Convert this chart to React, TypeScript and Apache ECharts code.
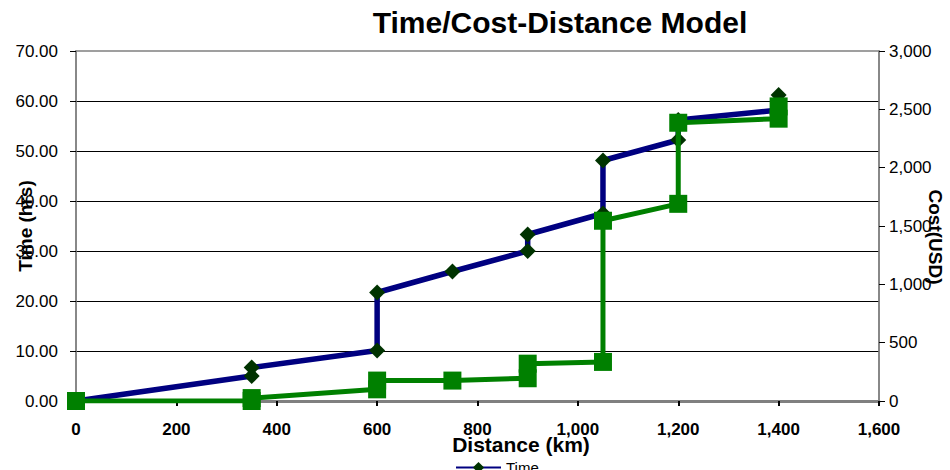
import React, { useEffect, useRef } from 'react';
import * as echarts from 'echarts';

const distances = [0, 350, 350, 600, 600, 750, 900, 900, 1050, 1050, 1200, 1200, 1400, 1400];
const timeHrs = [0, 5.0, 6.7, 10.1, 21.7, 25.9, 30.0, 33.3, 37.5, 48.1, 52.2, 56.2, 58.2, 61.2];
const costUsd = [0, 0, 25, 100, 175, 175, 195, 320, 335, 1545, 1690, 2385, 2420, 2525];

const titleText = 'Time/Cost-Distance Model';
const xName = 'Distance (km)';
const yLeftName = 'Time (hrs)';
const yRightName = 'Cost(USD)';
const seriesNames = ['Time', 'Cost'];

const FONT = '"Liberation Sans", Arial, sans-serif';

const fmtThousands = (v: number) => v.toLocaleString('en-US');

export default function App() {
  const ref = useRef<HTMLDivElement>(null);
  useEffect(() => {
    document.body.style.margin = '0';
    if (!ref.current) return;
    const chart = echarts.init(ref.current, null, { renderer: 'svg' });
    const timeData = distances.map((d, i) => [d, timeHrs[i]]);
    const costData = distances.map((d, i) => [d, costUsd[i]]);
    chart.setOption({
      animation: false,
      backgroundColor: '#ffffff',
      textStyle: { fontFamily: FONT },
      title: {
        text: titleText,
        left: 555,
        textAlign: 'center',
        top: 2,
        textStyle: { fontFamily: FONT, fontWeight: 'bold', fontSize: 30, color: '#000' },
      },
      grid: {
        left: 76,
        right: 71,
        top: 51,
        bottom: 69,
        containLabel: false,
        outerBoundsMode: 'none',
        show: true,
        borderColor: '#808080',
        borderWidth: 1.5,
        backgroundColor: 'transparent',
      },
      legend: {
        data: [seriesNames[0]],
        left: 450,
        top: 455,
        itemWidth: 45,
        itemHeight: 14,
        textStyle: { fontFamily: FONT, fontSize: 15, color: '#000' },
      },
      xAxis: {
        type: 'value',
        min: 0,
        max: 1600,
        interval: 200,
        axisLine: { show: true, lineStyle: { color: '#808080', width: 3 } },
        axisTick: { show: true, inside: false, length: 5, lineStyle: { color: '#000', width: 2 } },
        axisLabel: {
          margin: 20,
          fontFamily: FONT,
          fontSize: 17,
          fontWeight: 'bold',
          color: '#000',
          formatter: (v: number) => fmtThousands(v),
        },
        splitLine: { show: false },
      },
      yAxis: [
        {
          type: 'value',
          min: 0,
          max: 70,
          interval: 10,
          position: 'left',
          axisLine: { show: true, lineStyle: { color: '#808080', width: 1.5 } },
          axisTick: { show: true, inside: false, length: 6, lineStyle: { color: '#000' } },
          axisLabel: {
            margin: 18,
            fontFamily: FONT,
            fontSize: 17,
            color: '#000',
            formatter: (v: number) => v.toFixed(2),
          },
          splitLine: { show: true, showMaxLine: false, showMinLine: false, lineStyle: { color: '#000', width: 1 } },
        },
        {
          type: 'value',
          min: 0,
          max: 3000,
          interval: 500,
          position: 'right',
          axisLine: { show: true, lineStyle: { color: '#808080', width: 1.5 } },
          axisTick: { show: true, inside: false, length: 6, lineStyle: { color: '#000' } },
          axisLabel: {
            margin: 10,
            fontFamily: FONT,
            fontSize: 17,
            color: '#000',
            formatter: (v: number) => fmtThousands(v),
          },
          splitLine: { show: false },
        },
      ],
      graphic: [
        {
          type: 'text',
          x: 25,
          y: 226,
          rotation: Math.PI / 2,
          style: {
            text: yLeftName,
            font: `bold 19px ${FONT}`,
            fill: '#000',
            align: 'center',
            verticalAlign: 'middle',
            textAlign: 'center',
            textVerticalAlign: 'middle',
          },
        },
        {
          type: 'text',
          x: 935,
          y: 237,
          rotation: -Math.PI / 2,
          style: {
            text: yRightName,
            font: `bold 19px ${FONT}`,
            fill: '#000',
            align: 'center',
            verticalAlign: 'middle',
            textAlign: 'center',
            textVerticalAlign: 'middle',
          },
        },
        {
          type: 'text',
          x: 521,
          y: 444,
          style: {
            text: xName,
            font: `bold 21px ${FONT}`,
            fill: '#000',
            align: 'center',
            verticalAlign: 'middle',
            textAlign: 'center',
            textVerticalAlign: 'middle',
          },
        },
      ],
      series: [
        {
          name: seriesNames[0],
          type: 'line',
          yAxisIndex: 0,
          data: timeData,
          symbol: 'diamond',
          symbolSize: 16,
          lineStyle: { color: '#000080', width: 5.5 },
          itemStyle: { color: '#003300' },
          z: 2,
        },
        {
          name: seriesNames[1],
          type: 'line',
          yAxisIndex: 1,
          data: costData,
          symbol: 'rect',
          symbolSize: 18,
          lineStyle: { color: '#008000', width: 5 },
          itemStyle: { color: '#008000' },
          z: 3,
        },
      ],
    });
    return () => chart.dispose();
  }, []);
  return <div ref={ref} style={{ width: 950, height: 470 }} />;
}
